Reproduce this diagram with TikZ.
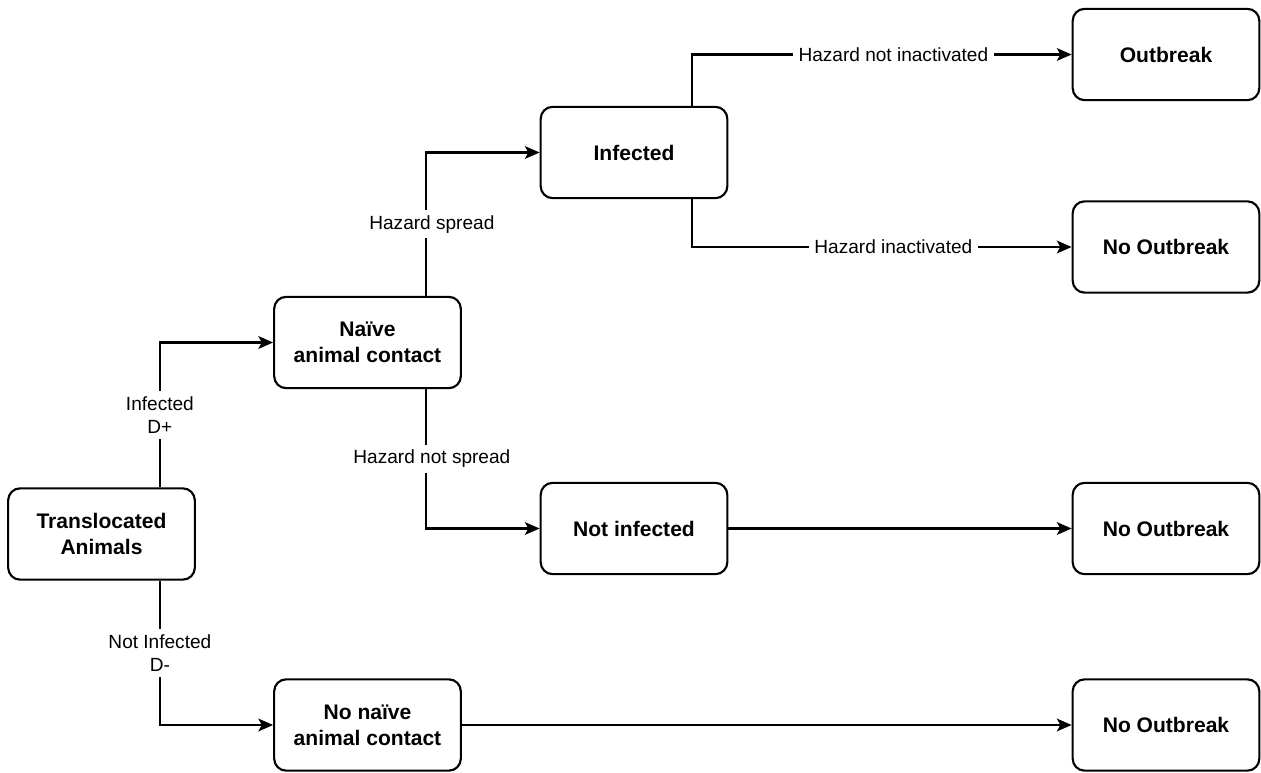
\documentclass[tikz,border=0pt]{standalone}
\usepackage{fontspec}
\setmainfont{Liberation Sans}
\usetikzlibrary{arrows.meta}
\begin{document}
\begin{tikzpicture}[x=0.75pt,y=-0.75pt,
  box/.style={draw, line width=1.6pt, rounded corners=9pt,
    minimum width=140pt, minimum height=68.5pt, align=center, inner sep=0pt,
    font=\fontsize{15.8}{19.5}\selectfont\bfseries},
  conn/.style={line width=1.6pt, -{Stealth[length=11pt,width=9.5pt,inset=2.5pt]}},
  lbl/.style={fill=white, align=center, inner sep=4pt,
    font=\fontsize{14.3}{17.5}\selectfont}]
  \useasboundingbox (0,0) rectangle (1261,773);

  % states
  \node[box] (t)   at (101.5,534)  {Translocated\\Animals};
  \node[box] (n)   at (367.5,342.5){Na\"ive\\animal contact};
  \node[box] (nn)  at (367.5,725)  {No na\"ive\\animal contact};
  \node[box] (i)   at (634,152.5)  {Infected};
  \node[box] (ni)  at (634,528.5)  {Not infected};
  \node[box] (o)   at (1166,54.5)  {Outbreak};
  \node[box] (no1) at (1166,247)   {No Outbreak};
  \node[box] (no2) at (1166,528.5) {No Outbreak};
  \node[box] (no3) at (1166,725)   {No Outbreak};

  % transitions
  \draw[conn] ([xshift=-27pt]t.north east) |- node[lbl,pos=0.25]{Infected\\D+} (n.west);
  \draw[conn] ([xshift=-27pt]t.south east) |- node[lbl,pos=0.25]{Not Infected\\D-} (nn.west);
  \draw[conn] ([xshift=-27pt]n.north east) |- node[lbl,pos=0.25,xshift=4.5pt]{Hazard spread} (i.west);
  \draw[conn] ([xshift=-27pt]n.south east) |- node[lbl,pos=0.25,xshift=4.5pt]{Hazard not spread} (ni.west);
  \draw[conn] ([xshift=-27pt]i.north east) |- node[lbl,pos=0.765]{Hazard not inactivated} (o.west);
  \draw[conn] ([xshift=-27pt]i.south east) |- node[lbl,pos=0.765]{Hazard inactivated} (no1.west);
  \draw[conn] (ni) -- (no2);
  \draw[conn] (nn) -- (no3);
\end{tikzpicture}
\end{document}
